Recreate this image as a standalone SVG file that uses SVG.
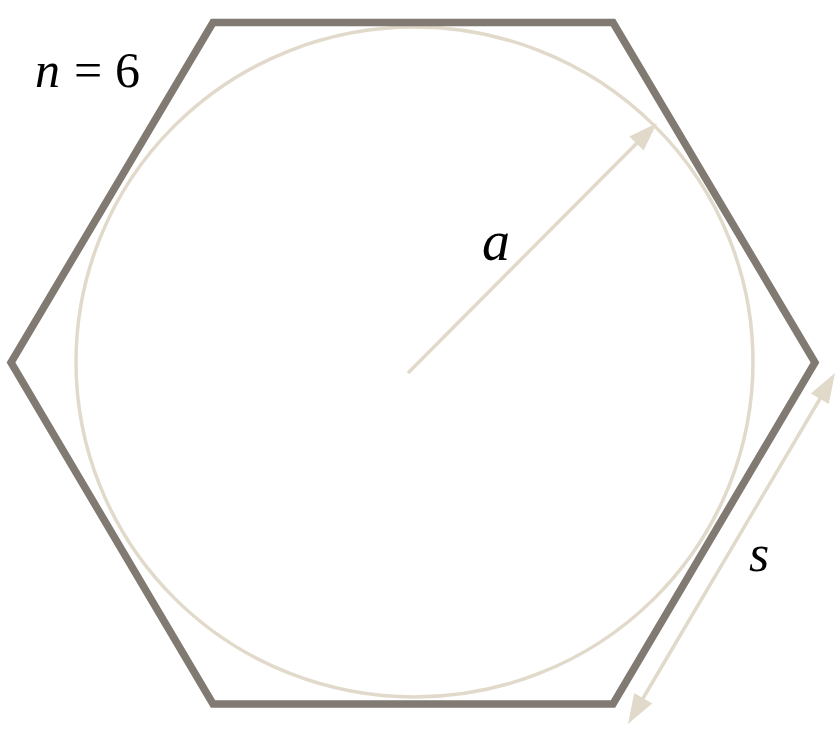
<svg xmlns="http://www.w3.org/2000/svg" width="840" height="732" viewBox="0 0 840 732">
<style>
.circ{fill:none;stroke:#e1d9ca;stroke-width:3.5}
.hex{fill:none;stroke:#807a72;stroke-width:7.5;stroke-linejoin:miter}
.arr{fill:none;stroke:#e1d9ca;stroke-width:3.5}
.head{fill:#e1d9ca;stroke:none}
.lbl{font-family:"Liberation Serif","DejaVu Serif",serif;fill:#000}
.it{font-style:italic}
</style>
<rect width="840" height="732" fill="#fff"/>
<g id="incircle">
<ellipse class="circ" cx="414.5" cy="362" rx="338.5" ry="335"/>
</g>
<g id="hexagon">
<polygon class="hex" points="213,22.5 613,22.5 815,362.5 613,704 213,704 11,362.5"/>
</g>
<g id="connectors">
<g id="apothem">
<line class="arr" x1="408" y1="373" x2="638" y2="142"/>
<polygon class="head" points="657,123 643.6,150.6 629.4,136.4"/>
</g>
<g id="side">
<line class="arr" x1="642" y1="700" x2="821" y2="397"/>
<polygon class="head" points="835,373 828.8,404.1 810.8,393.5"/>
<polygon class="head" points="628,724 652.2,703.5 634.2,692.9"/>
</g>
</g>
<g id="labels">
<text class="lbl" x="35" y="87" font-size="50"><tspan class="it">n</tspan><tspan x="74">=</tspan><tspan x="115">6</tspan></text>
<text class="lbl it" x="482" y="260" font-size="56">a</text>
<text class="lbl it" x="749" y="571" font-size="52">s</text>
</g>
</svg>
